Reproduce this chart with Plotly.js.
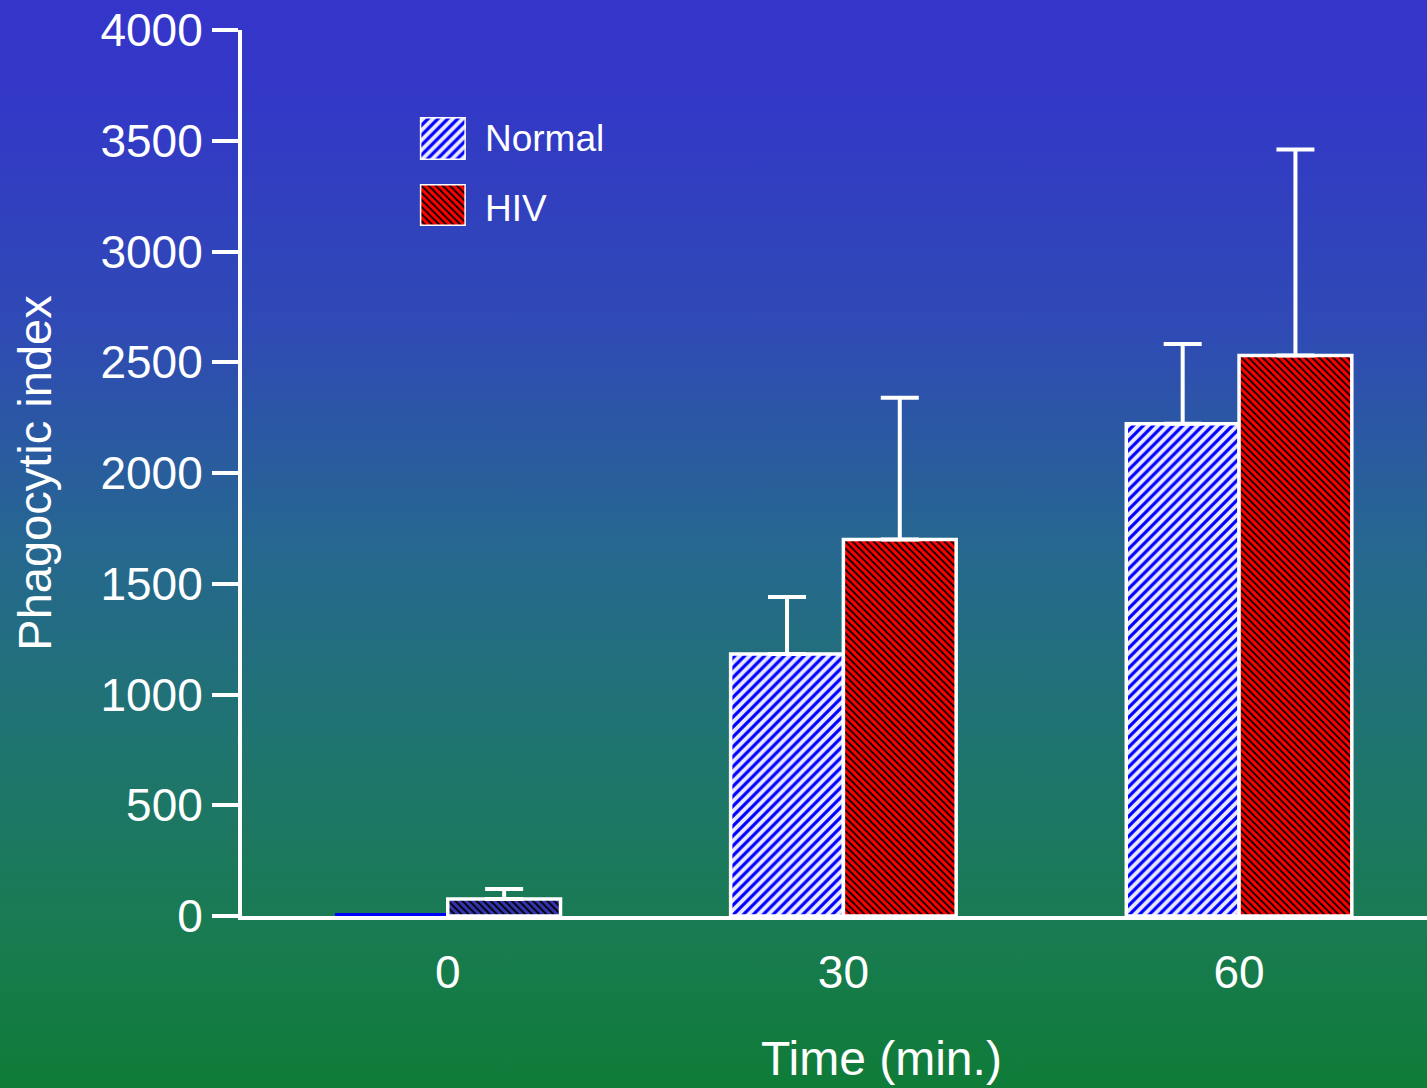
<!DOCTYPE html>
<html>
<head>
<meta charset="utf-8">
<script src="https://cdn.plot.ly/plotly-3.0.1.min.js"></script>
<style>
  html, body { margin: 0; padding: 0; }
  #chart {
    width: 1427px; height: 1088px;
    background: linear-gradient(to bottom, #3535ca 0%, #3338c7 9%, #2f4ab5 30%, #266790 50%, #1f7470 68%, #197b52 85%, #0f7c38 100%);
  }
</style>
</head>
<body>
<div id="chart"></div>
<script>
// ---- data ----
const categories = ['0', '30', '60'];
const normalValues = [14, 1183, 2222];
const normalErrors = [0, 257, 360];
const hivValues = [77, 1700, 2530];
const hivErrors = [45, 640, 930];
const yTickValues = [0, 500, 1000, 1500, 2000, 2500, 3000, 3500, 4000];
const seriesNames = ['Normal', 'HIV'];

const white = '#ffffff';
const normalPattern = { shape: '/', fgcolor: '#0000ff', bgcolor: '#e8e8ff', size: 7, solidity: 0.45, fillmode: 'replace' };
const hivPattern = { shape: '\\', fgcolor: '#000000', bgcolor: '#ff0000', size: 5, solidity: 0.35, fillmode: 'replace' };
const hivZeroPattern = { shape: '\\', fgcolor: '#000000', bgcolor: '#3434b0', size: 5, solidity: 0.35, fillmode: 'replace' };

function errUp(arr) {
  return { type: 'data', array: arr, arrayminus: arr.map(() => 0), symmetric: false, visible: true, color: white, thickness: 4, width: 19 };
}

// first category (time 0) drawn as its own trace in the same offset group
const normalZero = {
  type: 'bar', name: seriesNames[0], offsetgroup: 'normal',
  x: categories.slice(0, 1), y: normalValues.slice(0, 1),
  marker: { color: '#0000ff', line: { width: 0 } },
  showlegend: false, hoverinfo: 'skip'
};
const normalTrace = {
  type: 'bar', name: seriesNames[0], offsetgroup: 'normal',
  x: categories.slice(1), y: normalValues.slice(1),
  marker: { color: white, line: { color: white, width: 3.5 }, pattern: normalPattern },
  error_y: errUp(normalErrors.slice(1)),
  showlegend: false, hoverinfo: 'skip'
};
const hivZero = {
  type: 'bar', name: seriesNames[1], offsetgroup: 'hiv',
  x: categories.slice(0, 1), y: hivValues.slice(0, 1),
  marker: { color: '#3434b0', line: { color: white, width: 3.5 }, pattern: hivZeroPattern },
  error_y: errUp(hivErrors.slice(0, 1)),
  showlegend: false, hoverinfo: 'skip'
};
const hivTrace = {
  type: 'bar', name: seriesNames[1], offsetgroup: 'hiv',
  x: categories.slice(1), y: hivValues.slice(1),
  marker: { color: '#ff0000', line: { color: white, width: 3.5 }, pattern: hivPattern },
  error_y: errUp(hivErrors.slice(1)),
  showlegend: false, hoverinfo: 'skip'
};

// legend swatches drawn as single bars on small overlay axes
const legendNormal = {
  type: 'bar', x: [0], y: [1], width: [1], xaxis: 'x2', yaxis: 'y2', showlegend: false, hoverinfo: 'skip',
  marker: { color: white, line: { color: white, width: 3 }, pattern: normalPattern }
};
const legendHiv = {
  type: 'bar', x: [0], y: [1], width: [1], xaxis: 'x3', yaxis: 'y3', showlegend: false, hoverinfo: 'skip',
  marker: { color: '#ff0000', line: { color: white, width: 3 }, pattern: hivPattern }
};

const font = 'Liberation Sans, Arial, sans-serif';
const hiddenAxis = { showgrid: false, zeroline: false, showticklabels: false, showline: false, ticks: '', fixedrange: true };

const layout = {
  width: 1427, height: 1088,
  margin: { l: 242, r: 0, t: 30, b: 172 },
  paper_bgcolor: 'rgba(0,0,0,0)', plot_bgcolor: 'rgba(0,0,0,0)',
  barmode: 'group', bargap: 0.43, bargroupgap: 0,
  font: { family: font, color: white },
  xaxis: {
    type: 'category', categoryorder: 'array', categoryarray: categories, range: [-0.52, 2.475],
    showline: true, linecolor: white, linewidth: 4,
    ticks: '', showgrid: false, zeroline: false,
    tickfont: { size: 46, color: white }, ticklabelstandoff: 13,
    automargin: false
  },
  yaxis: {
    range: [0, 4000], tickvals: yTickValues,
    showline: true, linecolor: white, linewidth: 4,
    ticks: 'outside', ticklen: 26, tickwidth: 4, tickcolor: white,
    showgrid: false, zeroline: false,
    tickfont: { size: 46, color: white }, ticklabelstandoff: 0,
    title: { text: 'Phagocytic index', font: { size: 47, color: white }, standoff: 35 },
    automargin: false
  },
  xaxis2: Object.assign({ domain: [0.1501, 0.1889], range: [-0.5, 0.5], anchor: 'y2' }, hiddenAxis),
  yaxis2: Object.assign({ domain: [0.8533, 0.9018], range: [0, 1], anchor: 'x2' }, hiddenAxis),
  xaxis3: Object.assign({ domain: [0.1501, 0.1889], range: [-0.5, 0.5], anchor: 'y3' }, hiddenAxis),
  yaxis3: Object.assign({ domain: [0.7788, 0.8262], range: [0, 1], anchor: 'x3' }, hiddenAxis),
  annotations: [
    { text: seriesNames[0], xref: 'paper', yref: 'paper', x: 0.2030, y: 0.878, xanchor: 'left', yanchor: 'middle', showarrow: false, font: { size: 37, color: white } },
    { text: seriesNames[1], xref: 'paper', yref: 'paper', x: 0.2030, y: 0.799, xanchor: 'left', yanchor: 'middle', showarrow: false, font: { size: 37, color: white } },
    { text: 'Time (min.)', xref: 'paper', yref: 'paper', x: 0.5396, y: -0.1603, xanchor: 'center', yanchor: 'middle', showarrow: false, font: { size: 48, color: white } }
  ]
};

Plotly.newPlot('chart', [normalZero, normalTrace, hivZero, hivTrace, legendNormal, legendHiv], layout, { staticPlot: true, displayModeBar: false });
</script>
</body>
</html>
